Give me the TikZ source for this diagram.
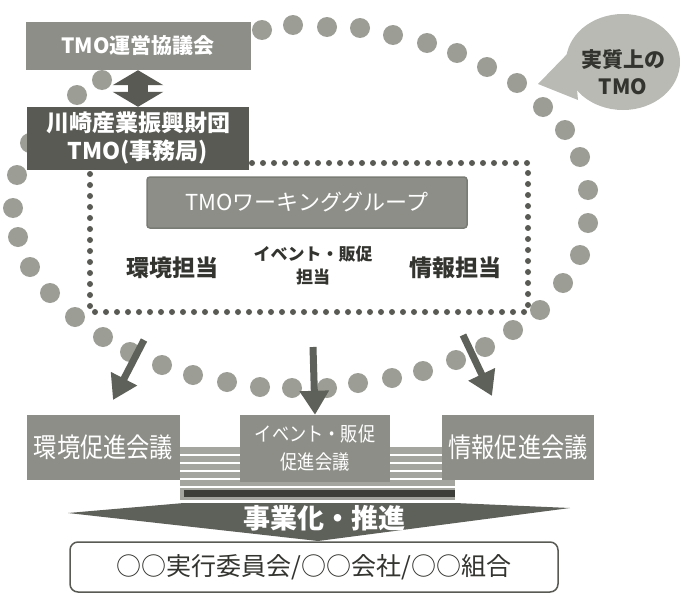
\documentclass[tikz,border=0pt]{standalone}
\usepackage{fontspec}
\setmainfont{Noto Sans CJK JP}
\newfontfamily\jpc[FakeStretch=0.86]{Noto Sans CJK JP}
\usetikzlibrary{arrows.meta}
\definecolor{loopc}{HTML}{9C9E96}
\definecolor{boxc}{HTML}{8C8E87}
\definecolor{darkc}{HTML}{585A53}
\definecolor{arrowc}{HTML}{5E6159}
\definecolor{bubc}{HTML}{B9BAB4}
\definecolor{txtc}{HTML}{33342F}
\definecolor{stripec}{HTML}{A3A59E}
\definecolor{barc}{HTML}{3E3F3A}
\definecolor{chevc}{HTML}{5E605A}
\tikzset{
  loopdot/.style={fill=loopc},
  rectdots/.style={draw=darkc, line width=6pt, line cap=round, dash pattern=on 0pt off 11pt},
  gbox/.style={fill=boxc, text=white, inner sep=0pt, align=center},
  dbox/.style={fill=darkc, text=white, inner sep=0pt, align=center},
  rowtxt/.style={text=txtc, inner sep=0pt, align=center, font=\bfseries\fontsize{23pt}{27pt}\selectfont},
  bigarrow/.style={draw=arrowc, line width=7pt, -{Triangle[width=28pt,length=24pt]}},
  dblarrow/.style={draw=darkc, line width=20pt, {Triangle[width=50pt,length=15pt]}-{Triangle[width=50pt,length=15pt]}}
}
\begin{document}
\begin{tikzpicture}[x=1pt,y=-1pt]
\useasboundingbox (0,0) rectangle (683,597);
% big dotted loop
\foreach \p in {(77,95),(102,80),(262,30),(293,25),(327,27),(360,28),(393,35),(427,43),(457,53),(487,67),(517,83),(543,107),(565,130),(580,157),(588,190),(588,223),(580,255),(563,283),(540,310),(513,330),(485,347),(456,360),(423,371),(392,378),(358,383),(327,388),(292,388),(260,387),(227,382),(193,375),(162,365),(130,352),(103,337),(75,317),(50,293),(30,267),(18,237),(13,208),(17,175),(30,143)}
  \fill[loopdot] \p circle (10pt);
% dotted rectangle (working group area)
\draw[rectdots] (90,163) rectangle (528,312);
% bubble
\fill[bubc] (623,62) ellipse [x radius=57pt, y radius=48pt];
\fill[bubc] (573,48) -- (538,84) -- (578,100) -- cycle;
\node[text=txtc, inner sep=0pt, align=center, font=\bfseries\fontsize{21pt}{27pt}\selectfont] (bub) at (623,72) {実質上の\\TMO};
% top boxes
\node[gbox, minimum width=225pt, minimum height=48pt, font=\bfseries\fontsize{21pt}{25pt}\selectfont] (b1) at (138,46) {TMO運営協議会};
\node[dbox, minimum width=222pt, minimum height=63pt, font=\bfseries\fontsize{23pt}{28pt}\selectfont] (b2) at (138,138.5) {川崎産業振興財団\\TMO(事務局)};
\draw[dblarrow] (b1.south) -- (b2.north);
% working group
\node[gbox, draw=darkc!80, line width=1.5pt, rounded corners=3pt, minimum width=320pt, minimum height=51pt, font=\fontsize{22pt}{26pt}\selectfont] (wg) at (307,202.5) {TMOワーキンググループ};
\node[rowtxt] (t1) at (172,268) {環境担当};
\node[rowtxt, font=\bfseries\fontsize{17pt}{23pt}\selectfont] (t2) at (313,266) {イベント・販促\\担当};
\node[rowtxt] (t3) at (455,268) {情報担当};
% stripes and bar
\fill[stripec] (180,447) rectangle (455,500);
\foreach \yy in {455,463,471,479,487} \draw[white, line width=2pt] (180,\yy) -- (455,\yy);
\fill[barc] (184,490) rectangle (455,497);
% bottom boxes
\node[gbox, minimum width=153pt, minimum height=65pt, font=\jpc\fontsize{27pt}{30pt}\selectfont] (p1) at (103.5,447.5) {環境促進会議};
\node[gbox, minimum width=150pt, minimum height=67pt, font=\jpc\fontsize{20pt}{28pt}\selectfont] (p2) at (315,448.5) {イベント・販促\\促進会議};
\node[gbox, minimum width=152pt, minimum height=65pt, font=\jpc\fontsize{27pt}{30pt}\selectfont] (p3) at (518,447.5) {情報促進会議};
% arrows from the loop to the promotion meetings
\coordinate (a1s) at (144,340);
\coordinate (a1e) at (113,400);
\coordinate (a2s) at (313,347);
\coordinate (a3s) at (463,335);
\coordinate (a3e) at (492,396);
\draw[bigarrow] (a1s) -- (a1e);
\draw[bigarrow] (a2s) -- (p2.north);
\draw[bigarrow] (a3s) -- (a3e);
% chevron
\coordinate (c1) at (68,513);
\coordinate (c2) at (184,503);
\coordinate (c3) at (455,503);
\coordinate (c4) at (570,508);
\coordinate (c5) at (318,541);
\fill[chevc] (c1) -- (c2) -- (c3) -- (c4) -- (c5) -- cycle;
\node[text=white, inner sep=0pt, font=\bfseries\fontsize{27pt}{30pt}\selectfont] (chev) at (324,518) {事業化・推進};
% result box
\node[draw=darkc, line width=1.5pt, rounded corners=8pt, fill=white, text=txtc, minimum width=488pt, minimum height=50pt, inner sep=0pt, font=\fontsize{25pt}{28pt}\selectfont] (res) at (314,567) {○○実行委員会/○○会社/○○組合};
\end{tikzpicture}
\end{document}
